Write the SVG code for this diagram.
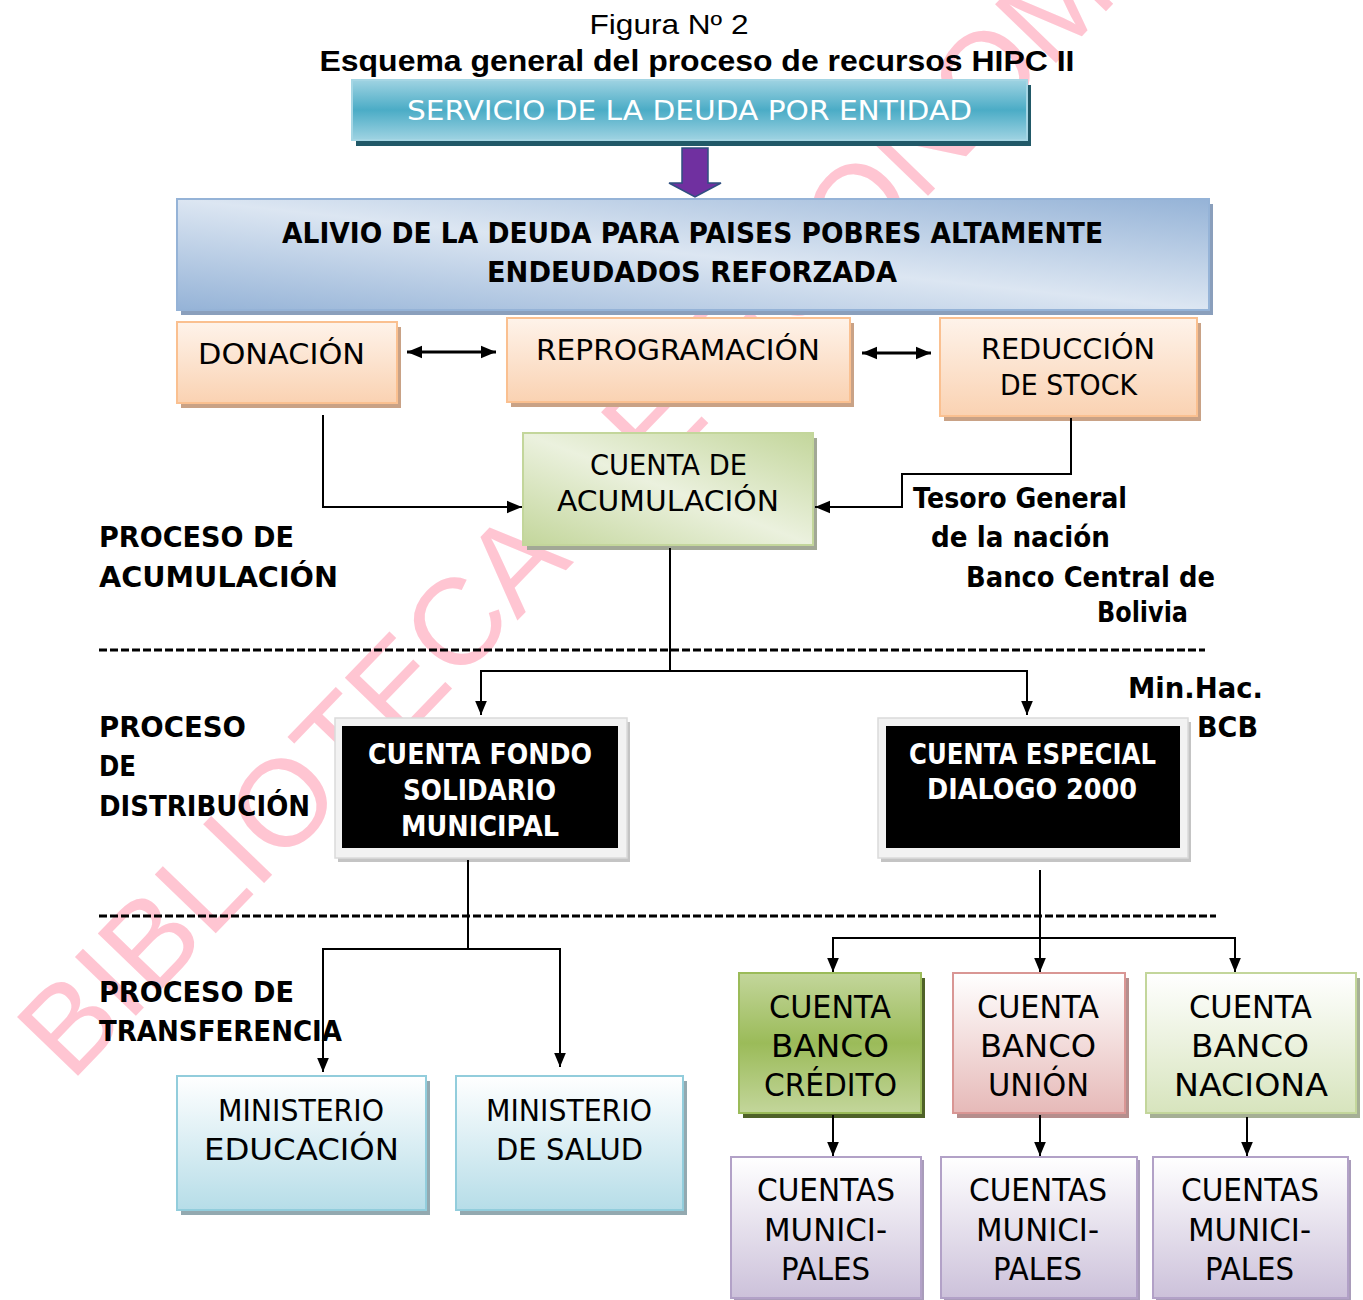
<svg xmlns="http://www.w3.org/2000/svg" width="1363" height="1300" viewBox="0 0 1363 1300">
<style>
.t{font-family:"DejaVu Sans","Liberation Sans",sans-serif;fill:#000}
.b{font-weight:bold}
.w{fill:#fff}
.ti{font-family:"Liberation Sans",Arial,sans-serif;fill:#000}
.c{stroke:#000;stroke-width:2;fill:none}
.c2{stroke:#000;stroke-width:3;fill:none}
.dash{stroke:#000;stroke-width:3;stroke-dasharray:8 3;fill:none}
.wm{font-family:"Liberation Sans",Arial,sans-serif;fill:#FFC5D2}
</style>
<defs>
<linearGradient id="gTeal" x1="0" y1="0" x2="0" y2="1"><stop offset="0" stop-color="#9FD3E2"/><stop offset="0.5" stop-color="#4BACC6"/><stop offset="1" stop-color="#9FD3E2"/></linearGradient>
<linearGradient id="gAlivio" x1="1" y1="0" x2="0" y2="1"><stop offset="0" stop-color="#95B3D7"/><stop offset="0.5" stop-color="#DCE6F2"/><stop offset="1" stop-color="#95B3D7"/></linearGradient>
<linearGradient id="gOrange" x1="0" y1="0" x2="0" y2="1"><stop offset="0" stop-color="#FEF3EA"/><stop offset="1" stop-color="#FAD2B2"/></linearGradient>
<linearGradient id="gAcum" x1="1" y1="0" x2="0" y2="1"><stop offset="0" stop-color="#C3D69B"/><stop offset="0.5" stop-color="#EBF1DE"/><stop offset="1" stop-color="#C3D69B"/></linearGradient>
<linearGradient id="gMin" x1="0" y1="0" x2="0" y2="1"><stop offset="0" stop-color="#FFFFFF"/><stop offset="1" stop-color="#B6DDE8"/></linearGradient>
<linearGradient id="gCred" x1="0" y1="0" x2="0" y2="1"><stop offset="0" stop-color="#C3D69B"/><stop offset="0.5" stop-color="#9BBB59"/><stop offset="1" stop-color="#C3D69B"/></linearGradient>
<linearGradient id="gUnion" x1="0" y1="0" x2="0" y2="1"><stop offset="0" stop-color="#FFFFFF"/><stop offset="1" stop-color="#E6B9B8"/></linearGradient>
<linearGradient id="gNac" x1="0" y1="0" x2="0" y2="1"><stop offset="0" stop-color="#FFFFFF"/><stop offset="1" stop-color="#D7E4BD"/></linearGradient>
<linearGradient id="gMuni" x1="0" y1="0" x2="0" y2="1"><stop offset="0" stop-color="#FFFFFF"/><stop offset="1" stop-color="#CCC1DA"/></linearGradient>
<marker id="ah" viewBox="0 0 12 10" refX="12" refY="5" markerWidth="14" markerHeight="12" markerUnits="userSpaceOnUse" orient="auto-start-reverse"><path d="M0,0 L12,5 L0,10 Z" fill="#000"/></marker>
<marker id="ah2" viewBox="0 0 12 10" refX="12" refY="5" markerWidth="15" markerHeight="15" markerUnits="userSpaceOnUse" orient="auto-start-reverse"><path d="M0,0 L12,5 L0,10 Z" fill="#000"/></marker>
</defs>

<rect width="1363" height="1300" fill="#fff"/>

<g id="watermark">
<text class="wm" x="71" y="1083" font-size="123" transform="rotate(-46 71 1083)">BIBLIOTECA DE ECONOMÍA</text>
</g>

<g id="title">
<text class="ti" x="669" y="34" font-size="28" text-anchor="middle" textLength="159" lengthAdjust="spacingAndGlyphs">Figura Nº 2</text>
<text class="ti b" x="697" y="71" font-size="29" text-anchor="middle" textLength="755" lengthAdjust="spacingAndGlyphs">Esquema general del proceso de recursos HIPC II</text>
</g>

<g id="labels">
<text class="t b" x="99" y="547" font-size="28" textLength="195" lengthAdjust="spacingAndGlyphs">PROCESO DE</text>
<text class="t b" x="99" y="587" font-size="28" textLength="239" lengthAdjust="spacingAndGlyphs">ACUMULACIÓN</text>
<text class="t b" x="99" y="737" font-size="28" textLength="147" lengthAdjust="spacingAndGlyphs">PROCESO</text>
<text class="t b" x="99" y="776" font-size="28" textLength="37" lengthAdjust="spacingAndGlyphs">DE</text>
<text class="t b" x="99" y="816" font-size="28" textLength="211" lengthAdjust="spacingAndGlyphs">DISTRIBUCIÓN</text>
<text class="t b" x="99" y="1002" font-size="28" textLength="195" lengthAdjust="spacingAndGlyphs">PROCESO DE</text>
<text class="t b" x="99" y="1041" font-size="28" textLength="243" lengthAdjust="spacingAndGlyphs">TRANSFERENCIA</text>
<text class="t b" x="913" y="508" font-size="28" textLength="214" lengthAdjust="spacingAndGlyphs">Tesoro General</text>
<text class="t b" x="931" y="547" font-size="28" textLength="179" lengthAdjust="spacingAndGlyphs">de la nación</text>
<text class="t b" x="966" y="587" font-size="28" textLength="249" lengthAdjust="spacingAndGlyphs">Banco Central de</text>
<text class="t b" x="1097" y="622" font-size="28" textLength="91" lengthAdjust="spacingAndGlyphs">Bolivia</text>
<text class="t b" x="1128" y="698" font-size="28" textLength="135" lengthAdjust="spacingAndGlyphs">Min.Hac.</text>
<text class="t b" x="1197" y="737" font-size="28" textLength="61" lengthAdjust="spacingAndGlyphs">BCB</text>
</g>

<g id="separators">
<line class="dash" x1="99" y1="650" x2="1205" y2="650"/>
<line class="dash" x1="99" y1="916" x2="1216" y2="916"/>
</g>

<g id="n-servicio">
<rect x="356" y="85" width="675" height="61" fill="#215968"/>
<rect x="352" y="80" width="675" height="60" fill="url(#gTeal)" stroke="#A5D6E4" stroke-width="2"/>
<text class="t w" x="689.5" y="120" font-size="27" text-anchor="middle" textLength="565" lengthAdjust="spacingAndGlyphs">SERVICIO DE LA DEUDA POR ENTIDAD</text>
</g>

<g id="n-flecha">
<polygon points="682,148 708,148 708,183 721,183 695,197 669,183 682,183" fill="#7030A0" stroke="#2F4F80" stroke-width="1.5"/>
</g>

<g id="n-alivio">
<rect x="181" y="204" width="1032" height="111" fill="#8A9FBC"/>
<rect x="177" y="199" width="1032" height="111" fill="url(#gAlivio)" stroke="#95B3D7" stroke-width="2"/>
<text class="t b" x="692.5" y="243" font-size="29" text-anchor="middle" textLength="821" lengthAdjust="spacingAndGlyphs">ALIVIO DE LA DEUDA PARA PAISES POBRES ALTAMENTE</text>
<text class="t b" x="692" y="282" font-size="29" text-anchor="middle" textLength="410" lengthAdjust="spacingAndGlyphs">ENDEUDADOS  REFORZADA</text>
</g>

<g id="n-donacion">
<rect x="181" y="327" width="220" height="81" fill="#C9A286"/>
<rect x="177" y="322" width="220" height="81" fill="url(#gOrange)" stroke="#FAC090" stroke-width="2"/>
<text class="t" x="281.5" y="364" font-size="29" text-anchor="middle" textLength="167" lengthAdjust="spacingAndGlyphs">DONACIÓN</text>
</g>

<g id="n-reprogramacion">
<rect x="511" y="323" width="343" height="84" fill="#C9A286"/>
<rect x="507" y="318" width="343" height="84" fill="url(#gOrange)" stroke="#FAC090" stroke-width="2"/>
<text class="t" x="678" y="360" font-size="29" text-anchor="middle" textLength="284" lengthAdjust="spacingAndGlyphs">REPROGRAMACIÓN</text>
</g>

<g id="n-reduccion">
<rect x="944" y="323" width="257" height="98" fill="#C9A286"/>
<rect x="940" y="318" width="257" height="98" fill="url(#gOrange)" stroke="#FAC090" stroke-width="2"/>
<text class="t" x="1068" y="359" font-size="29" text-anchor="middle" textLength="174" lengthAdjust="spacingAndGlyphs">REDUCCIÓN</text>
<text class="t" x="1068.5" y="395" font-size="29" text-anchor="middle" textLength="137" lengthAdjust="spacingAndGlyphs">DE STOCK</text>
</g>

<g id="n-acumulacion">
<rect x="527" y="438" width="290" height="112" fill="#A2A896"/>
<rect x="523" y="433" width="290" height="112" fill="url(#gAcum)" stroke="#C3D69B" stroke-width="2"/>
<text class="t" x="668.5" y="475" font-size="29" text-anchor="middle" textLength="157" lengthAdjust="spacingAndGlyphs">CUENTA DE</text>
<text class="t" x="668" y="511" font-size="29" text-anchor="middle" textLength="222" lengthAdjust="spacingAndGlyphs">ACUMULACIÓN</text>
</g>

<g id="n-fondo">
<rect x="338" y="722" width="292" height="140" fill="#C4C4C4"/>
<rect x="335" y="718" width="292" height="140" fill="#F2F2F2" stroke="#DADADA" stroke-width="1.5"/>
<rect x="342" y="726" width="276" height="122" fill="#000"/>
<text class="t b w" x="480" y="764" font-size="28" text-anchor="middle" textLength="224" lengthAdjust="spacingAndGlyphs">CUENTA FONDO</text>
<text class="t b w" x="479.5" y="800" font-size="28" text-anchor="middle" textLength="153" lengthAdjust="spacingAndGlyphs">SOLIDARIO</text>
<text class="t b w" x="480" y="836" font-size="28" text-anchor="middle" textLength="158" lengthAdjust="spacingAndGlyphs">MUNICIPAL</text>
</g>

<g id="n-especial">
<rect x="881" y="722" width="310" height="140" fill="#C4C4C4"/>
<rect x="878" y="718" width="310" height="140" fill="#F2F2F2" stroke="#DADADA" stroke-width="1.5"/>
<rect x="886" y="726" width="294" height="122" fill="#000"/>
<text class="t b w" x="1032.5" y="764" font-size="28" text-anchor="middle" textLength="247" lengthAdjust="spacingAndGlyphs">CUENTA ESPECIAL</text>
<text class="t b w" x="1032" y="799" font-size="28" text-anchor="middle" textLength="210" lengthAdjust="spacingAndGlyphs">DIALOGO 2000</text>
</g>

<g id="n-educacion">
<rect x="181" y="1081" width="249" height="134" fill="#93A9B0"/>
<rect x="177" y="1076" width="249" height="134" fill="url(#gMin)" stroke="#92CDDC" stroke-width="2"/>
<text class="t" x="301" y="1121" font-size="31" text-anchor="middle" textLength="166" lengthAdjust="spacingAndGlyphs">MINISTERIO</text>
<text class="t" x="301.5" y="1160" font-size="31" text-anchor="middle" textLength="195" lengthAdjust="spacingAndGlyphs">EDUCACIÓN</text>
</g>

<g id="n-salud">
<rect x="460" y="1081" width="227" height="134" fill="#93A9B0"/>
<rect x="456" y="1076" width="227" height="134" fill="url(#gMin)" stroke="#92CDDC" stroke-width="2"/>
<text class="t" x="569" y="1121" font-size="31" text-anchor="middle" textLength="166" lengthAdjust="spacingAndGlyphs">MINISTERIO</text>
<text class="t" x="569.5" y="1160" font-size="31" text-anchor="middle" textLength="147" lengthAdjust="spacingAndGlyphs">DE SALUD</text>
</g>

<g id="n-credito">
<rect x="743" y="978" width="182" height="140" fill="#4F6228"/>
<rect x="739" y="973" width="182" height="140" fill="url(#gCred)" stroke="#9BBB59" stroke-width="2"/>
<text class="t" x="830" y="1018" font-size="32" text-anchor="middle" textLength="122" lengthAdjust="spacingAndGlyphs">CUENTA</text>
<text class="t" x="830" y="1057" font-size="32" text-anchor="middle" textLength="118" lengthAdjust="spacingAndGlyphs">BANCO</text>
<text class="t" x="830.5" y="1096" font-size="32" text-anchor="middle" textLength="133" lengthAdjust="spacingAndGlyphs">CRÉDITO</text>
</g>

<g id="n-union">
<rect x="957" y="978" width="172" height="140" fill="#B58E8D"/>
<rect x="953" y="973" width="172" height="140" fill="url(#gUnion)" stroke="#D99694" stroke-width="2"/>
<text class="t" x="1038" y="1018" font-size="32" text-anchor="middle" textLength="122" lengthAdjust="spacingAndGlyphs">CUENTA</text>
<text class="t" x="1038" y="1057" font-size="32" text-anchor="middle" textLength="116" lengthAdjust="spacingAndGlyphs">BANCO</text>
<text class="t" x="1038.5" y="1096" font-size="32" text-anchor="middle" textLength="101" lengthAdjust="spacingAndGlyphs">UNIÓN</text>
</g>

<g id="n-nacional">
<rect x="1150" y="978" width="210" height="140" fill="#A5AF95"/>
<rect x="1146" y="973" width="210" height="140" fill="url(#gNac)" stroke="#C3D69B" stroke-width="2"/>
<text class="t" x="1250.5" y="1018" font-size="32" text-anchor="middle" textLength="123" lengthAdjust="spacingAndGlyphs">CUENTA</text>
<text class="t" x="1250" y="1057" font-size="32" text-anchor="middle" textLength="118" lengthAdjust="spacingAndGlyphs">BANCO</text>
<text class="t" x="1251" y="1096" font-size="32" text-anchor="middle" textLength="154" lengthAdjust="spacingAndGlyphs">NACIONA</text>
</g>

<g id="n-muni1">
<rect x="734" y="1160" width="190" height="141" fill="#A99CBA"/>
<rect x="731" y="1157" width="190" height="141" fill="url(#gMuni)" stroke="#B2A1C7" stroke-width="2"/>
<text class="t" x="826" y="1201" font-size="32" text-anchor="middle" textLength="138" lengthAdjust="spacingAndGlyphs">CUENTAS</text>
<text class="t" x="825.5" y="1241" font-size="32" text-anchor="middle" textLength="123" lengthAdjust="spacingAndGlyphs">MUNICI-</text>
<text class="t" x="825.5" y="1280" font-size="32" text-anchor="middle" textLength="89" lengthAdjust="spacingAndGlyphs">PALES</text>
</g>

<g id="n-muni2">
<rect x="944" y="1160" width="196" height="141" fill="#A99CBA"/>
<rect x="941" y="1157" width="196" height="141" fill="url(#gMuni)" stroke="#B2A1C7" stroke-width="2"/>
<text class="t" x="1038" y="1201" font-size="32" text-anchor="middle" textLength="138" lengthAdjust="spacingAndGlyphs">CUENTAS</text>
<text class="t" x="1037.5" y="1241" font-size="32" text-anchor="middle" textLength="123" lengthAdjust="spacingAndGlyphs">MUNICI-</text>
<text class="t" x="1037.5" y="1280" font-size="32" text-anchor="middle" textLength="89" lengthAdjust="spacingAndGlyphs">PALES</text>
</g>

<g id="n-muni3">
<rect x="1156" y="1160" width="195" height="141" fill="#A99CBA"/>
<rect x="1153" y="1157" width="195" height="141" fill="url(#gMuni)" stroke="#B2A1C7" stroke-width="2"/>
<text class="t" x="1250" y="1201" font-size="32" text-anchor="middle" textLength="138" lengthAdjust="spacingAndGlyphs">CUENTAS</text>
<text class="t" x="1249.5" y="1241" font-size="32" text-anchor="middle" textLength="123" lengthAdjust="spacingAndGlyphs">MUNICI-</text>
<text class="t" x="1249.5" y="1280" font-size="32" text-anchor="middle" textLength="89" lengthAdjust="spacingAndGlyphs">PALES</text>
</g>

<g id="connectors">
<path class="c2" d="M407,352 H496" marker-start="url(#ah2)" marker-end="url(#ah2)"/>
<path class="c2" d="M862,353 H931" marker-start="url(#ah2)" marker-end="url(#ah2)"/>
<path class="c" d="M323,415 V507 H522" marker-end="url(#ah2)"/>
<path class="c" d="M1071,418 V474 H902 V507 H815" marker-end="url(#ah2)"/>
<path class="c" d="M670,548 V671"/>
<path class="c" d="M481,715 V671 H1027 V715" marker-start="url(#ah)" marker-end="url(#ah)"/>
<path class="c" d="M468,860 V949"/>
<path class="c" d="M323,1072 V949 H560 V1067" marker-start="url(#ah)" marker-end="url(#ah)"/>
<path class="c" d="M1040,870 V972" marker-end="url(#ah)"/>
<path class="c" d="M833,972 V938 H1235 V972" marker-start="url(#ah)" marker-end="url(#ah)"/>
<path class="c" d="M833,1115 V1156" marker-end="url(#ah)"/>
<path class="c" d="M1040,1115 V1156" marker-end="url(#ah)"/>
<path class="c" d="M1247,1117 V1156" marker-end="url(#ah)"/>
</g>
</svg>
